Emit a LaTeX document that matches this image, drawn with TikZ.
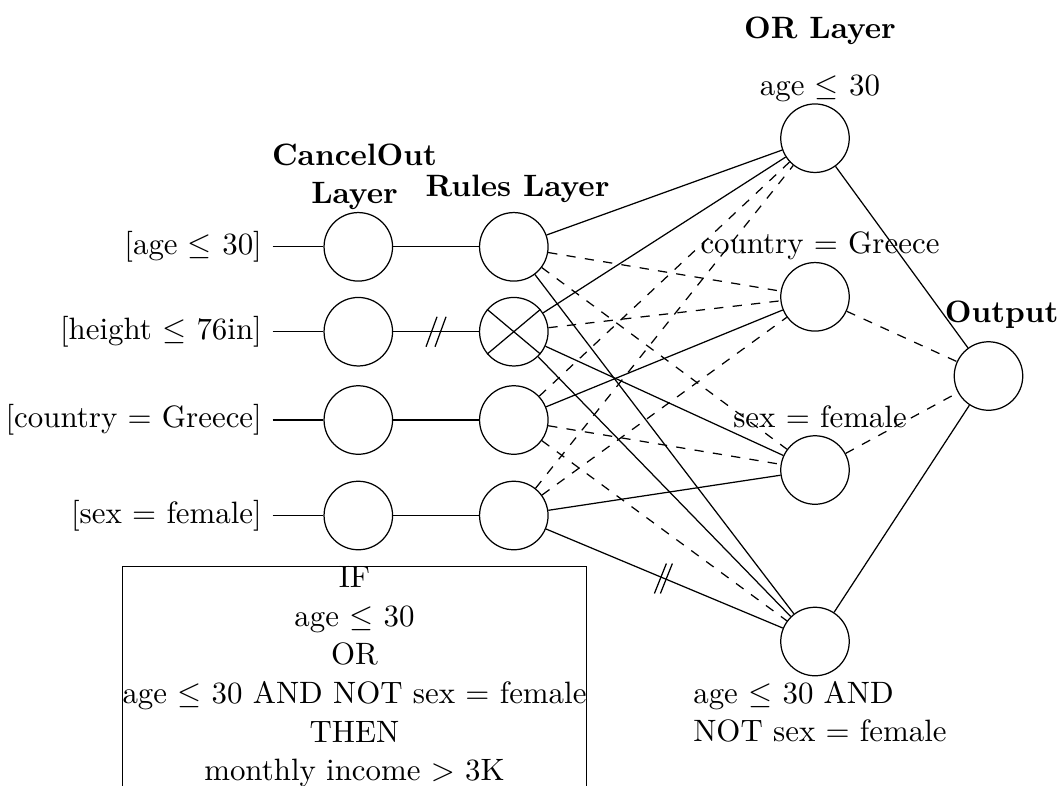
\documentclass[tikz,border=0pt]{standalone}
\usetikzlibrary{calc}
\begin{document}
\begin{tikzpicture}[x=0.32362pt,y=-0.32362pt,
  neuron/.style={draw,circle,minimum size=22.17pt,inner sep=0pt},
  head/.style={font=\bfseries,inner sep=0pt,anchor=base},
  feat/.style={inner sep=3.33pt,anchor=east},
  tag/.style={inner sep=0pt,anchor=base},
  off/.style={dashed},
  cutmark/.style={line width=0.4pt}]
\useasboundingbox (0,0) rectangle (1059,785);
\clip (0,0) rectangle (1059,785);

% CancelOut layer
\node[neuron] (c1) at (358.3,246.8) {};
\node[neuron] (c2) at (358.3,331.7) {};
\node[neuron] (c3) at (358.3,420.0) {};
\node[neuron] (c4) at (358.3,515.5) {};
% Rules layer
\node[neuron] (r1) at (513.8,246.8) {};
\node[neuron] (r2) at (513.8,331.7) {};
\node[neuron] (r3) at (513.8,420.0) {};
\node[neuron] (r4) at (513.8,515.5) {};
% OR layer
\node[neuron] (o1) at (815,138.2) {};
\node[neuron] (o2) at (815,296.8) {};
\node[neuron] (o3) at (815,470.0) {};
\node[neuron] (o4) at (815,641.5) {};
% output
\node[neuron] (out) at (988.5,376) {};

% inputs
\node[feat] (f1) at (272.7,246.8) {[age $\leq$ 30]};
\node[feat] (f2) at (272.7,331.7) {[height $\leq$ 76in]};
\node[feat] (f3) at (272.7,420.0) {[country $=$ Greece]};
\node[feat] (f4) at (272.7,515.5) {[sex $=$ female]};

% headings
\node[head,anchor=north,align=center,font=\bfseries\fontsize{10pt}{12.3pt}\selectfont] (hc) at (354.5,143.8) {CancelOut\\Layer};
\node[head] (hr) at (517.5,196.7) {Rules Layer};
\node[head] (ho) at (820,38) {OR Layer};
\node[head] (hout) at (1001.7,322) {Output};

% OR layer captions
\node[tag] (t1) at (820,95) {age $\leq$ 30};
\node[tag] (t2) at (820,253) {country $=$ Greece};
\node[tag] (t3) at (820,427) {sex $=$ female};
\node[inner sep=0pt,anchor=north west,align=left,font=\fontsize{10pt}{12.3pt}\selectfont] (t4) at (692.7,680.7) {age $\leq$ 30 AND\\NOT sex $=$ female};

% input wiring
\draw (f1) -- (c1) -- (r1);
\draw (f2) -- (c2) -- (r2);
\draw (f3) -- (c3) -- (r3);
\draw (f4) -- (c4) -- (r4);

% cancelled rule
\draw (r2.140) -- (r2.-40) (r2.220) -- (r2.40);

% rules to OR layer
\draw (r1) -- (o1);
\draw[off] (r1) -- (o2);
\draw[off] (r1) -- (o3);
\draw (r1) -- (o4);
\draw (r2) -- (o1);
\draw[off] (r2) -- (o2);
\draw (r2) -- (o3);
\draw (r2) -- (o4);
\draw[off] (r3) -- (o1);
\draw (r3) -- (o2);
\draw[off] (r3) -- (o3);
\draw[off] (r3) -- (o4);
\draw[off] (r4) -- (o1);
\draw[off] (r4) -- (o2);
\draw (r4) -- (o3);
\draw (r4) -- (o4);

% OR layer to output
\draw (o1) -- (out);
\draw[off] (o2) -- (out);
\draw[off] (o3) -- (out);
\draw (o4) -- (out);

% cut marks
\path (c2) -- (r2) coordinate[midway] (s1);
\path (r4) -- (o4) coordinate[midway] (s2);
\draw[cutmark] ($(s1)+(-10,15)$) -- ++(11,-30);
\draw[cutmark] ($(s1)+(-1,15)$) -- ++(11,-30);
\draw[cutmark] ($(s2)+(-10,15)$) -- ++(12,-30);
\draw[cutmark] ($(s2)+(-4,15)$) -- ++(12,-30);

% extracted rule
\node[draw,inner sep=0pt,anchor=north,align=center,font=\fontsize{10pt}{12.5pt}\selectfont] (rule) at (354.5,566) {IF\\age $\leq$ 30\\OR\\age $\leq$ 30 AND NOT sex $=$ female\\THEN\\monthly income $>$ 3K};
\end{tikzpicture}
\end{document}
